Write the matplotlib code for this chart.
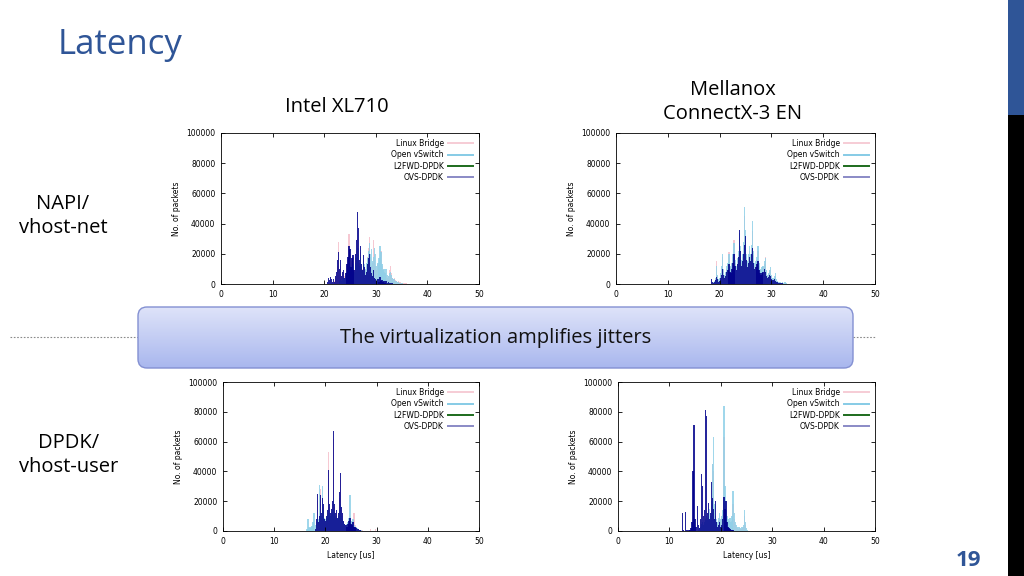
import numpy as np
import matplotlib
matplotlib.use("Agg")
import matplotlib.pyplot as plt
from matplotlib.patches import FancyBboxPatch, Rectangle
from matplotlib.lines import Line2D
from matplotlib.colors import LinearSegmentedColormap

# latency histograms, 0.2 us bins: (first bin, counts)
BIN = 0.2

# Intel XL710, NAPI/vhost-net
tl_bridge = (22.0, [2000, 4000, 6000, 12000, 28000, 9000, 12000, 5000, 7000, 8000, 5000, 7000, 12000, 16000,
                    33000, 20000, 10000, 15000, 18000, 9000, 17000, 22000, 30000, 24000, 14000, 21000, 12000,
                    10000, 16000, 12000, 9000, 12000, 18000, 24000, 31000, 18000, 12000, 14000, 29000, 20000,
                    12000, 9000, 13000, 10000, 17000, 22000, 12000, 7000, 8000, 5000, 6000, 4000, 5000, 9000,
                    12000, 7000, 4000, 3000, 4000, 2500, 2000, 1500, 2000, 1200, 1000, 900, 700, 600, 500, 400,
                    400, 300, 300, 200, 200, 150])
tl_ovs = (23.0, [2000, 3000, 2000, 4000, 5000, 3000, 5000, 8000, 10000, 14000, 12000, 8000, 11000, 13000, 8000,
                 14000, 18000, 24000, 20000, 12000, 18000, 11000, 9000, 15000, 13000, 10000, 14000, 17000, 22000,
                 27000, 20000, 23000, 15000, 18000, 24000, 20000, 12000, 14000, 17000, 25000, 21000, 13000, 9000,
                 10000, 7000, 10000, 6000, 5000, 7000, 8000, 6000, 4000, 3000, 3500, 2000, 1800, 1200, 1000, 800,
                 600, 500, 400, 300, 200, 150, 100])
tl_l2fwd = (0.0, [])
tl_ovsdpdk = (20.6, [1000, 4000, 2500, 4500, 3500, 1500, 3000, 1500, 5000, 8000, 16000, 21000, 10000, 16000, 5000,
                     8000, 9000, 4000, 7000, 13000, 18000, 25000, 23000, 11000, 17000, 19000, 9000, 20000, 29000,
                     48000, 37000, 16000, 25000, 13000, 9000, 19000, 11000, 6000, 8000, 13000, 17000, 20000, 11000,
                     7000, 5000, 9000, 4000, 3500, 2000, 3000, 1500, 4500, 2000, 2500, 1200, 1800, 800, 2000, 800,
                     1200, 500, 900, 400, 600, 300, 300, 200, 200])

# Mellanox ConnectX-3 EN, NAPI/vhost-net
tr_bridge = (19.2, [3000, 15000, 5000, 2500, 3500, 6000, 10000, 18000, 9000, 5000, 7000, 10000, 13000, 21000, 11000,
                    9000, 13000, 18000, 29000, 14000, 11000, 15000, 20000, 30000, 22000, 14000, 18000, 24000, 45000,
                    30000, 18000, 13000, 18000, 22000, 18000, 23000, 35000, 19000, 12000, 13000, 16000, 22000,
                    12000, 9000, 8000, 10000, 11000, 13000, 18000, 8000, 5000, 6000, 8000, 9000, 5000, 3000, 3000,
                    4000, 5000, 2000, 1500, 1000, 1000, 600, 500])
tr_ovs = (18.8, [1000, 2000, 4000, 12000, 6000, 3000, 4000, 7000, 12000, 20000, 10000, 6000, 8000, 12000, 14000,
                 20000, 12000, 10000, 14000, 20000, 27000, 16000, 12000, 17000, 22000, 34000, 25000, 16000, 20000,
                 28000, 51000, 36000, 20000, 15000, 20000, 25000, 20000, 26000, 42000, 22000, 14000, 15000, 18000,
                 25000, 14000, 10000, 9000, 11000, 12000, 15000, 17000, 9000, 6000, 7000, 9000, 11000, 6000, 4000,
                 4000, 5000, 7000, 3000, 2000, 1500, 1500, 1000, 800, 1200, 600, 1500, 800, 300])
tr_l2fwd = (0.0, [])
tr_ovsdpdk = (18.4, [3000, 1500, 800, 1500, 2500, 4500, 3000, 1500, 2000, 4000, 6000, 10000, 6000, 4000, 5000, 8000,
                     9000, 13000, 8000, 7000, 10000, 14000, 20000, 12000, 9000, 13000, 18000, 36000, 22000, 12000,
                     15000, 20000, 26000, 32000, 16000, 11000, 14000, 18000, 15000, 20000, 24000, 14000, 10000,
                     11000, 13000, 15000, 9000, 7000, 6000, 7000, 8000, 10000, 8000, 5000, 4000, 4500, 6000, 5000,
                     3000, 2500, 2500, 3000, 2000, 1200, 1000, 800, 900, 500, 400, 600, 300, 200])

# Intel XL710, DPDK/vhost-user
bl_bridge = (18.2, [5000, 20000, 6000, 25000, 28000, 10000, 20000, 16000, 8000, 6000, 9000, 12000, 53000, 16000,
                    10000, 13000, 18000, 62000, 16000, 10000, 12000, 8000, 10000, 22000, 34000, 14000, 10000, 6000,
                    5000, 4000, 3000, 4000, 6000, 8000, 5000, 4000, 7000, 12000, 4000, 2500, 2000, 1500, 1000, 800,
                    600, 400, 300, 200, 200, 150, 100, 100, 100, 1500, 100, 100, 100, 100, 1500])
bl_ovs = (16.4, [1500, 8000, 3000, 2000, 2500, 3500, 6000, 12000, 4000, 6000, 10000, 8000, 31000, 12000, 10000,
                 30000, 14000, 9000, 8000, 9000, 11000, 15000, 12000, 10000, 12000, 14000, 22000, 12000, 9000, 10000,
                 8000, 10000, 14000, 18000, 10000, 8000, 6000, 5000, 4000, 5000, 6000, 9000, 24000, 7000, 5000, 8000,
                 4000, 3000, 2500, 2000, 1500, 1000, 700, 500, 300, 200])
bl_l2fwd = (0.0, [])
bl_ovsdpdk = (18.0, [1500, 8000, 25000, 6000, 10000, 24000, 12000, 22000, 18000, 8000, 7000, 10000, 14000, 41000,
                     18000, 12000, 15000, 20000, 67000, 18000, 12000, 14000, 9000, 12000, 26000, 39000, 16000, 12000,
                     7000, 5000, 4000, 3000, 5000, 7000, 9000, 5000, 4000, 6000, 3000, 2500, 2000, 1500, 1200, 800,
                     500, 300])

# Mellanox ConnectX-3 EN, DPDK/vhost-user
br_bridge = (18.0, [5000, 12000, 45000, 40000, 12000, 8000, 6000, 5000, 7000, 9000, 6000, 8000, 11000, 63000, 20000,
                    10000, 8000, 6000, 5000, 6000, 4000, 7000, 18000, 8000, 4000, 3000, 2000, 1500, 2000, 1500, 1500,
                    2000, 3000, 10000, 4000, 1000])
br_ovs = (15.6, [1000, 2000, 3000, 5000, 6000, 4000, 6000, 8000, 10000, 9000, 12000, 15000, 10000, 20000, 45000,
                 63000, 18000, 10000, 8000, 6000, 9000, 12000, 8000, 10000, 14000, 84000, 30000, 14000, 10000, 8000,
                 7000, 9000, 6000, 10000, 27000, 12000, 6000, 4000, 3000, 2500, 3000, 2000, 2500, 3000, 4000, 14000,
                 6000, 2000, 800, 300])
br_l2fwd = (0.0, [])
br_ovsdpdk = (12.6, [12000, 500, 300, 12500, 800, 300, 500, 1000, 2000, 6000, 40000, 71000, 8000, 3000, 17000, 4000,
                     2000, 8000, 38000, 30000, 10000, 14000, 81000, 77000, 12000, 19000, 8000, 12000, 33000, 22000,
                     15000, 8000, 20000, 6000, 3000, 4000, 6000, 3000, 4000, 8000, 23000, 15000, 20000, 6000, 3000,
                     2000, 1500, 1000, 800, 500, 300, 200])

series_names = ["Linux Bridge", "Open vSwitch", "L2FWD-DPDK", "OVS-DPDK"]
x_ticks = [0, 10, 20, 30, 40, 50]
y_ticks = [0, 20000, 40000, 60000, 80000, 100000]

bar_colors = ["#F4B6C4", "#8FD0E8", "#006400", "#00008B"]
bar_alpha = [0.75, 0.85, 1.0, 0.85]
legend_colors = ["#F6CCD5", "#86CBE6", "#1D6B1D", "#8A8AC6"]

W, H = 1024, 576
fig = plt.figure(figsize=(W / 100, H / 100), dpi=100)
fig.patch.set_facecolor("white")


def px_axes(left, top, right, bottom):
    return fig.add_axes([left / W, 1 - bottom / H, (right - left) / W, (bottom - top) / H])


panels = [
    ((221, 133, 479, 284), [tl_bridge, tl_ovs, tl_l2fwd, tl_ovsdpdk], False),
    ((616, 133, 875, 284), [tr_bridge, tr_ovs, tr_l2fwd, tr_ovsdpdk], False),
    ((223, 382, 479, 531), [bl_bridge, bl_ovs, bl_l2fwd, bl_ovsdpdk], True),
    ((618, 382, 875, 531), [br_bridge, br_ovs, br_l2fwd, br_ovsdpdk], True),
]

for rect, data, bottom_row in panels:
    ax = px_axes(*rect)
    for i, (start, counts) in enumerate(data):
        if len(counts) == 0:
            continue
        x = start + BIN * np.arange(len(counts))
        ax.bar(x, counts, width=BIN * 1.25, color=bar_colors[i], alpha=bar_alpha[i], linewidth=0)
    ax.set_xlim(0, 50)
    ax.set_ylim(0, 100000)
    ax.set_xticks(x_ticks)
    ax.set_xticklabels([str(t) for t in x_ticks])
    ax.set_yticks(y_ticks)
    ax.set_yticklabels([str(t) for t in y_ticks])
    ax.tick_params(direction="in", top=True, right=True, length=3, width=0.6,
                   labelsize=5.5, pad=4)
    for s in ax.spines.values():
        s.set_linewidth(0.6)
    ax.set_ylabel("No. of packets", fontsize=5.5, labelpad=4)
    if bottom_row:
        ax.set_xlabel("Latency [us]", fontsize=5.5, labelpad=4)
    handles = [Line2D([], [], color=c, lw=1.4) for c in legend_colors]
    ax.legend(handles, series_names, loc="upper right", frameon=False, markerfirst=False,
              fontsize=5.5, handlelength=3.2, labelspacing=0.3, borderaxespad=0.4,
              handletextpad=0.6)

# slide decorations on a full-figure overlay
ov = fig.add_axes([0, 0, 1, 1])
ov.axis("off")
ov.patch.set_alpha(0)

ov.plot([10, 138], [337, 337], color="#8A8A8A", lw=0.8, ls=(0, (1.5, 1.5)))
ov.plot([853, 875], [337, 337], color="#8A8A8A", lw=0.8, ls=(0, (1.5, 1.5)))

banner = FancyBboxPatch((138, 307), 715, 61, boxstyle="round,pad=0,rounding_size=9",
                        facecolor="none", edgecolor="#8390D2", lw=1.0, zorder=3)
ov.add_patch(banner)
grad = np.linspace(0, 1, 100).reshape(-1, 1)
cmap = LinearSegmentedColormap.from_list("band", ["#DEE3F9", "#A9B7EE"])
img = ov.imshow(grad, cmap=cmap, extent=[138, 853, 368, 307], aspect="auto", zorder=2)
img.set_clip_path(banner)
ov.set_xlim(0, W)
ov.set_ylim(H, 0)
ov.text(496, 338, "The virtualization amplifies jitters", fontsize=14.5, family="Open Sans",
        ha="center", va="center", color="#111111", zorder=4)

ov.text(58, 45, "Latency", fontsize=25, family="Open Sans", color="#2F5597", ha="left", va="center")
ov.text(337, 107, "Intel XL710", fontsize=14.5, family="Open Sans", ha="center", va="center")
ov.text(733, 102, "Mellanox\nConnectX-3 EN", fontsize=14.5, family="Open Sans", ha="center",
        va="center", linespacing=1.25)
ov.text(63, 216, "NAPI/\nvhost-net", fontsize=14.5, family="Open Sans", ha="center", va="center",
        linespacing=1.25)
ov.text(69, 455, "DPDK/\nvhost-user", fontsize=14.5, family="Open Sans", ha="center", va="center",
        linespacing=1.25)

ov.add_patch(Rectangle((1008, 0), 16, 115, facecolor="#2F5597", edgecolor="none"))
ov.add_patch(Rectangle((1008, 115), 16, 461, facecolor="black", edgecolor="none"))
ov.text(968, 560, "19", fontsize=16, fontweight="bold", family="Open Sans", color="#2F5597",
        ha="center", va="center")

fig.savefig("out.png", dpi=100)
